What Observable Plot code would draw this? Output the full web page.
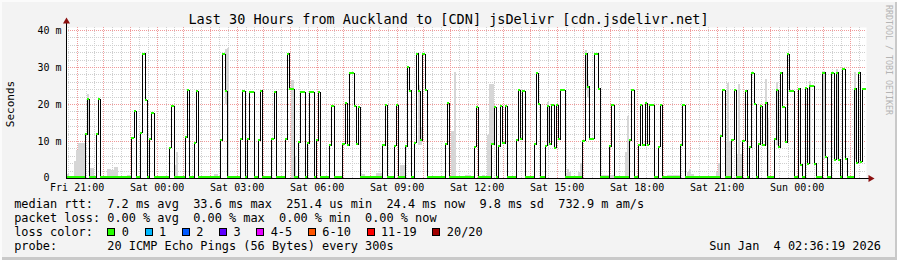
<!DOCTYPE html>
<html><head><meta charset="utf-8">
<script src="https://cdn.jsdelivr.net/npm/d3@7"></script>
<script src="https://cdn.jsdelivr.net/npm/@observablehq/plot@0.6"></script>
<style>
body{margin:0;background:#fff;}
#wrap{position:relative;width:897px;height:260px;background:#f3f3f3;overflow:hidden;font-family:"DejaVu Sans Mono",monospace;color:#000;
 box-shadow: inset 2px 2px 0 #fbfbfb, inset -2px -3px 0 #c9c9c9;}
#title{position:absolute;left:0;top:11px;width:897px;text-align:center;font-size:13.5px;line-height:16px;white-space:pre;}
#ylabel{position:absolute;left:11px;top:104px;font-size:11px;line-height:12px;white-space:pre;transform:translate(-50%,-50%) rotate(-90deg);}
#credit{position:absolute;left:888px;top:60px;font-size:8.3px;line-height:9px;color:#b4b4b4;white-space:pre;transform:translate(-50%,-50%) rotate(90deg);}
#chart{position:absolute;left:0;top:0;}
.lg{position:absolute;left:14.2px;font-size:11.9px;line-height:14px;white-space:pre;}
#stamp{position:absolute;right:16px;font-size:11.9px;line-height:14px;white-space:pre;}
.item{display:inline-flex;align-items:center;}
.box{display:inline-block;width:6px;height:6px;border:1px solid #000;margin-right:6.4px;}
</style></head><body>
<div id="wrap">
 <div id="chart"></div>
 <div id="title"></div>
 <div id="ylabel"></div>
 <div id="credit"></div>
 <div class="lg" id="l1" style="top:196.5px"></div>
 <div class="lg" id="l2" style="top:210.5px"></div>
 <div class="lg" id="l3" style="top:224.5px"></div>
 <div class="lg" id="l4" style="top:238.5px"></div>
 <div id="stamp" style="top:238.5px"></div>
</div>
<script>
// ---- text ----
const titleText = "Last 30 Hours from Auckland to [CDN] jsDelivr [cdn.jsdelivr.net]";
const yAxisLabel = "Seconds";
const creditText = "RRDTOOL / TOBI OETIKER";
const medianLine = "median rtt:  7.2 ms avg  33.6 ms max  251.4 us min  24.4 ms now  9.8 ms sd  732.9 m am/s";
const lossLine = "packet loss: 0.00 % avg  0.00 % max  0.00 % min  0.00 % now";
const lossColorTitle = "loss color:  ";
const lossLabels = ["0", "1", "2", "3", "4-5", "6-10", "11-19", "20/20"];
const lossColors = ["#26ff00", "#00b8ff", "#0059ff", "#5e00ff", "#e600ff", "#ff5500", "#ff0000", "#a10000"];
const probeLine = "probe:       20 ICMP Echo Pings (56 Bytes) every 300s";
const stampText = "Sun Jan  4 02:36:19 2026";

// ---- time frame ----
const viewStart = new Date("2026-01-02T20:36:00Z");
const viewEnd = new Date("2026-01-04T02:36:00Z");
const dataStart = Date.parse("2026-01-02T20:38:00Z");
const stepMinutes = 5;
const slotCount = 360;
const labelTicks = ["2026-01-02T21:00Z","2026-01-03T00:00Z","2026-01-03T03:00Z","2026-01-03T06:00Z","2026-01-03T09:00Z","2026-01-03T12:00Z","2026-01-03T15:00Z","2026-01-03T18:00Z","2026-01-03T21:00Z","2026-01-04T00:00Z"].map(s => new Date(s));
const yTicks = [10, 20, 30, 40];
const yTickLabels = ["10 m", "20 m", "30 m", "40 m"];
const yZeroLabel = "0";

// ---- median RTT (ms): slot index where the value changes, and the value ----
const changeSlot = [0,8,9,10,13,14,15,29,30,31,33,34,35,36,37,38,39,46,47,48,53,54,55,57,58,59,69,70,71,72,
 78,79,80,81,82,84,86,87,88,92,93,94,98,99,100,102,104,105,107,108,109,111,112,113,114,118,119,120,
 124,125,126,127,129,130,131,132,142,143,144,147,148,149,152,153,154,155,156,157,158,159,160,161,162,
 170,171,172,183,184,185,191,192,193,194,195,196,197,198,202,203,204,205,206,210,211,212,213,215,216,
 217,218,219,220,221,222,224,232,233,234,235,237,239,240,244,245,246,253,254,255,257,258,259,260,261,262,264,
 266,267,268,276,277,278,294,295,296,299,300,301,304,305,306,307,308,309,310,311,312,313,314,315,
 318,319,320,321,322,323,324,325,327,329,330,331,332,333,334,336,337,340,341,342,344,345,346,347,348,
 349,350,351,354,355,356,357,358];
const medianMs = [0.3,11.9,21.4,0.3,11.9,21.4,0.3,11.0,18.2,0.3,12.3,33.7,21.2,0.3,10.6,17.7,0.3,8.3,19.5,0.3,11.2,23.8,0.3,9.6,23.6,0.3,10.3,33.6,23.6,0.3,
 10.6,23.6,0.3,10.6,23.4,0.3,10.4,23.7,0.3,10.7,23.4,0.3,10.6,33.7,24.1,0.3,9.8,23.3,0.3,9.5,23.3,0.3,10.3,23.3,0.3,9.0,19.5,0.3,
 9.3,20.4,9.0,28.6,19.5,9.3,19.3,0.3,9.0,19.8,0.3,8.8,19.8,0.3,8.7,30.1,23.7,0.3,9.7,33.7,23.6,10.3,33.6,23.8,0.3,
 9.2,20.3,0.3,8.6,19.3,0.3,9.2,19.3,0.3,8.7,19.5,9.5,19.5,0.3,10.3,23.8,10.6,23.6,0.3,9.2,28.5,20.0,0.3,8.9,19.5,
 9.3,19.8,8.3,19.8,10.6,23.8,0.3,10.1,33.7,24.8,10.8,33.7,24.3,0.3,8.7,19.8,0.3,10.3,23.8,0.3,9.0,19.8,9.0,20.3,9.1,19.8,0.3,
 8.6,19.8,0.3,9.0,19.8,0.3,11.4,23.9,0.3,10.5,23.9,0.3,10.1,23.7,0.3,8.5,28.6,20.1,0.3,9.2,19.5,9.0,20.5,0.3,
 10.6,23.8,8.5,28.6,19.3,9.8,33.6,23.6,0.3,24.3,3.7,0.3,24.4,4.0,25.0,4.0,0.3,28.6,5.7,0.3,28.6,5.1,28.6,5.1,0.3,
 29.5,5.4,0.3,24.3,4.2,28.6,4.5,24.3];

// ---- smoke (spread of the 20 pings, ms) ----
const smokeSlot = [0,3,4,5,6,7,9,10,11,18,19,20,21,22,27,28,48,49,66,67,71,72,89,90,91,101,102,122,123,132,133,139,140,141,
 150,151,158,159,173,174,179,180,181,187,189,190,191,216,224,225,226,230,231,233,234,241,242,243,244,245,251,252,
 270,271,272,273,274,275,279,280,281,292,293,296,297,298,301,302,303,314,315,319,334,340,346,354];
const smokeLowMs = [0,0,0,0,0,0,12,0,0,0,0,0,0,0,0,0,0,0,0,0,20,0,0,0,0,0,0,0,0,0,0,0,0,0,
 0,0,9,9,0,0,0,0,0,0,0,0,9,9,0,0,0,0,0,24,22,0,0,0,0,0,0,0,
 0,0,0,0,0,0,0,0,0,0,0,0,0,0,0,0,0,9,0,9,4,5,5,5];
const smokeHighMs = [1.1,4.7,7.7,9.5,9.5,9.5,22.7,2.7,2.7,2.5,2.5,2.1,3.1,3.1,0.9,0.9,3.4,7.0,1.1,1.1,34.9,35.0,0.6,0.6,0.6,26.6,5.9,0.6,0.6,1.1,1.1,1.4,1.4,1.4,
 3.6,3.6,25.2,13.8,12.8,28.6,0.8,0.8,0.8,0.9,11.5,25.4,25.4,20.5,1.0,2.3,1.5,1.5,4.1,34.6,26.6,0.8,0.8,0.8,0.8,0.8,7.1,16.7,
 0.7,0.7,0.7,0.7,0.7,0.7,1.5,2.5,1.2,1.5,4.1,9.9,25.6,9.9,6.6,25.5,6.6,26.8,16.2,25.9,26.1,28.8,29.5,28.7];

// ---- build ----
const slotTime = k => new Date(dataStart + k * stepMinutes * 60000);
const runs = changeSlot.map((s, i) => ({
  x1: slotTime(s),
  x2: slotTime(i + 1 < changeSlot.length ? changeSlot[i + 1] : slotCount),
  y: medianMs[i]
}));
const linePts = runs.map(r => ({x: r.x1, y: r.y}));
linePts.push({x: slotTime(slotCount), y: medianMs[medianMs.length - 1]});
const smoke = smokeSlot.map((s, i) => ({x1: slotTime(s), x2: slotTime(s + 1), y1: smokeLowMs[i], y2: smokeHighMs[i]}));

const majorX = d3.utcHour.range(viewStart, viewEnd);
const minorX = d3.utcMinute.every(20).range(viewStart, viewEnd).filter(d => d.getUTCMinutes() !== 0);
const majorY = [10, 20, 30, 40];
const minorY = d3.range(2, 40, 2).filter(v => v % 10 !== 0);
const axisTop = 42;
const xArrowTime = new Date(+viewEnd + 9 * 60000);

const plot = Plot.plot({
  width: 897, height: 200,
  marginLeft: 66, marginRight: 31, marginTop: 27, marginBottom: 22,
  x: {type: "utc", domain: [viewStart, viewEnd]},
  y: {domain: [0, 40.8]},
  style: {background: "transparent", fontFamily: "DejaVu Sans Mono", fontSize: "10px", color: "#000", overflow: "visible"},
  marks: [
    Plot.frame({fill: "#ffffff", stroke: null}),
    Plot.ruleX(minorX, {stroke: "#cfcfcf", strokeDasharray: "1,1", shapeRendering: "crispEdges"}),
    Plot.ruleY(minorY, {stroke: "#cfcfcf", strokeDasharray: "1,1", shapeRendering: "crispEdges"}),
    Plot.ruleX(majorX, {stroke: "#f09a9a", strokeDasharray: "1,1", shapeRendering: "crispEdges"}),
    Plot.ruleY(majorY, {stroke: "#f09a9a", strokeDasharray: "1,1", shapeRendering: "crispEdges"}),
    Plot.rect(smoke, {x1: "x1", x2: "x2", y1: "y1", y2: "y2", fill: "#d6d6d6", clip: true, shapeRendering: "crispEdges"}),
    Plot.lineY(linePts, {x: "x", y: "y", curve: "step-after", stroke: "#000", strokeWidth: 1, clip: true, shapeRendering: "crispEdges"}),
    Plot.ruleY(runs, {x1: "x1", x2: "x2", y: "y", stroke: lossColors[0], strokeWidth: 2, clip: true, shapeRendering: "crispEdges"}),
    Plot.ruleY([0], {x1: viewStart, x2: xArrowTime, stroke: "#000", shapeRendering: "crispEdges"}),
    Plot.ruleX([viewStart], {y1: 0, y2: axisTop, stroke: "#000", shapeRendering: "crispEdges"}),
    Plot.dot([viewStart], {x: d => d, y: axisTop + 0.4, symbol: "triangle", r: 2.6, fill: "#8b1010", stroke: null}),
    Plot.dot([xArrowTime], {x: d => d, y: 0, symbol: "triangle", rotate: 90, r: 2.6, fill: "#8b1010", stroke: null}),
    Plot.axisX({ticks: labelTicks, tickFormat: d3.utcFormat("%a %H:%M"), tickSize: 0, tickPadding: 5, label: null, fontSize: 10}),
    Plot.axisY({ticks: yTicks, tickFormat: d => yTickLabels[yTicks.indexOf(d)], tickSize: 0, tickPadding: 5, label: null, fontSize: 10}),
    Plot.axisY({ticks: [0], tickFormat: () => yZeroLabel, tickSize: 0, tickPadding: 17, label: null, fontSize: 10, dy: -1})
  ]
});
document.getElementById("chart").appendChild(plot);

document.getElementById("title").textContent = titleText;
document.getElementById("ylabel").textContent = yAxisLabel;
document.getElementById("credit").textContent = creditText;
document.getElementById("l1").textContent = medianLine;
document.getElementById("l2").textContent = lossLine;
document.getElementById("l4").textContent = probeLine;
document.getElementById("stamp").textContent = stampText;
const l3 = document.getElementById("l3");
l3.appendChild(document.createTextNode(lossColorTitle));
lossLabels.forEach((lab, i) => {
  const it = document.createElement("span"); it.className = "item";
  it.style.marginRight = "15.7px";
  const b = document.createElement("span"); b.className = "box"; b.style.background = lossColors[i];
  const t = document.createElement("span"); t.textContent = lab;
  it.appendChild(b); it.appendChild(t); l3.appendChild(it);
});
</script>
</body></html>
